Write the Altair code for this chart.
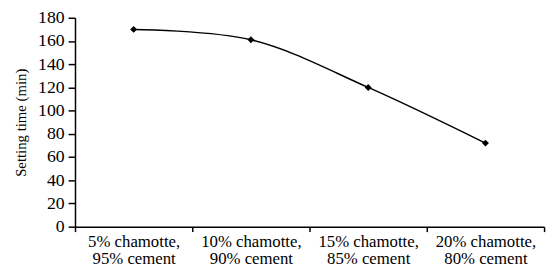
import altair as alt
import pandas as pd

categories = ["5% chamotte, 95% cement", "10% chamotte, 90% cement",
              "15% chamotte, 85% cement", "20% chamotte, 80% cement"]
setting_time = [170, 161, 120, 72]

df = pd.DataFrame({"mix": categories, "time": setting_time})

font = "Liberation Serif"

x = alt.X("mix:N", sort=categories,
          scale=alt.Scale(paddingInner=0, paddingOuter=0),
          axis=alt.Axis(title=None, tickBand="extent", labelAngle=0,
                        labelExpr="isString(datum.value) && indexof(datum.value, ', ') > 0 ? [split(datum.value, ', ')[0] + ',', split(datum.value, ', ')[1]] : ''",
                        labelFontSize=17, labelPadding=2, labelLineHeight=17,
                        tickSize=5))
y = alt.Y("time:Q",
          scale=alt.Scale(domain=[0, 180], nice=False),
          axis=alt.Axis(title="Setting time (min)", values=list(range(0, 181, 20)),
                        titlePadding=9, labelPadding=4, labelFontSize=18,
                        tickSize=7))

line = alt.Chart(df).mark_line(color="black", strokeWidth=1.5, interpolate="catmull-rom").encode(x=x, y=y)
pts = alt.Chart(df).mark_point(shape="diamond", filled=True, color="black", size=50, opacity=1).encode(x=x, y=y)

chart = (line + pts).properties(
    width=476, height=212,
    autosize=alt.AutoSizeParams(type="none"),
    padding={"left": 68, "top": 8, "right": 4, "bottom": 40},
    background="white",
).configure_view(stroke=None).configure_axis(
    labelFont=font, titleFont=font, titleFontSize=15,
    titleFontWeight="normal", labelColor="black", titleColor="black",
    domainColor="black", tickColor="black",
    domainWidth=1.5, tickWidth=1.5, grid=False,
)

chart.save("out.html", embed_options={"renderer": "svg", "actions": False})
